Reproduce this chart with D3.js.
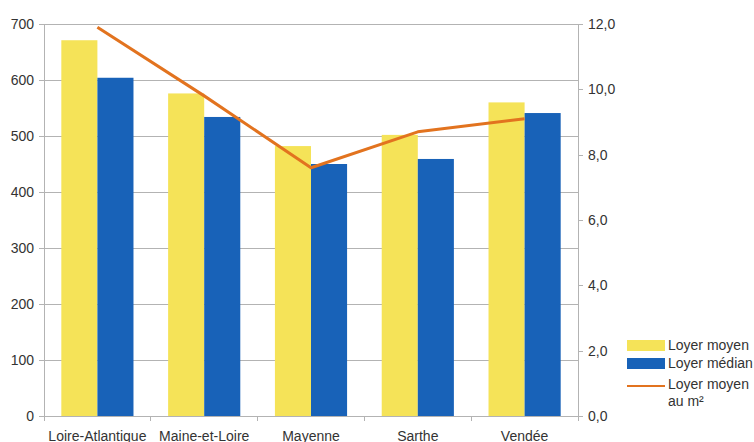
<!DOCTYPE html>
<html>
<head>
<meta charset="utf-8">
<script src="https://cdn.jsdelivr.net/npm/d3@7"></script>
<style>
  body { margin: 0; background: #fff; }
  svg { display: block; font-family: "Liberation Sans", Arial, sans-serif; }
</style>
</head>
<body>
<svg id="chart" width="754" height="442"></svg>
<script>
// Rents by département (Pays de la Loire)
const departements = ["Loire-Atlantique", "Maine-et-Loire", "Mayenne", "Sarthe", "Vendée"];
const loyerMoyen = [671, 576, 482, 502, 560];
const loyerMedian = [604, 534, 450, 459, 541];
const loyerMoyenM2 = [11.9, 9.8, 7.6, 8.7, 9.1];
const leftTicks = [0, 100, 200, 300, 400, 500, 600, 700];
const rightTicks = [0, 2, 4, 6, 8, 10, 12];

const colors = { moyen: "#f5e358", median: "#1862b8", m2: "#e2731f", grid: "#b3b3b3", text: "#333" };
const fontSize = 14;

const svg = d3.select("#chart");
const m = { left: 44, right: 578, top: 24, bottom: 416 };

const x = d3.scaleBand().domain(departements).range([m.left, m.right]).paddingInner(0).paddingOuter(0);
const xInner = d3.scaleBand().domain(["moyen", "median"]).range([0, x.bandwidth()]).paddingOuter(0.48).paddingInner(0);
const yLeft = d3.scaleLinear().domain([0, 700]).range([m.bottom, m.top]);
const yRight = d3.scaleLinear().domain([0, 12]).range([m.bottom, m.top]);

// horizontal grid
svg.append("g").selectAll("line").data(leftTicks).join("line")
  .attr("x1", m.left).attr("x2", m.right)
  .attr("y1", d => yLeft(d)).attr("y2", d => yLeft(d))
  .attr("stroke", colors.grid).attr("stroke-width", 1).attr("shape-rendering", "crispEdges");

// bars
const groups = svg.append("g").selectAll("g").data(departements).join("g")
  .attr("transform", d => `translate(${x(d)},0)`);
groups.append("rect")
  .attr("x", xInner("moyen")).attr("width", xInner.bandwidth())
  .attr("y", (d, i) => yLeft(loyerMoyen[i]))
  .attr("height", (d, i) => m.bottom - yLeft(loyerMoyen[i]))
  .attr("fill", colors.moyen);
groups.append("rect")
  .attr("x", xInner("median")).attr("width", xInner.bandwidth())
  .attr("y", (d, i) => yLeft(loyerMedian[i]))
  .attr("height", (d, i) => m.bottom - yLeft(loyerMedian[i]))
  .attr("fill", colors.median);

// left axis
const leftAxis = svg.append("g").attr("transform", `translate(${m.left},0)`)
  .call(d3.axisLeft(yLeft).tickValues(leftTicks).tickSize(5).tickPadding(5));
// right axis
const rightAxis = svg.append("g").attr("transform", `translate(${m.right},0)`)
  .call(d3.axisRight(yRight).tickValues(rightTicks).tickSize(5).tickPadding(5)
    .tickFormat(d => d3.format(".1f")(d).replace(".", ",")));
// bottom axis
const bottomAxis = svg.append("g").attr("transform", `translate(0,${m.bottom})`)
  .call(d3.axisBottom(x).tickSize(0).tickPadding(15));
// category separators
svg.append("g").selectAll("line").data(d3.range(departements.length + 1)).join("line")
  .attr("x1", i => m.left + i * x.bandwidth()).attr("x2", i => m.left + i * x.bandwidth())
  .attr("y1", m.bottom).attr("y2", m.bottom + 5)
  .attr("stroke", colors.grid).attr("shape-rendering", "crispEdges");

[leftAxis, rightAxis, bottomAxis].forEach(g => {
  g.select(".domain").attr("stroke", colors.grid).attr("shape-rendering", "crispEdges");
  g.selectAll(".tick line").attr("stroke", colors.grid).attr("shape-rendering", "crispEdges");
  g.selectAll("text").attr("fill", colors.text).attr("font-size", fontSize)
    .attr("font-family", "'Liberation Sans', Arial, sans-serif");
});
bottomAxis.select(".domain").attr("d", `M${m.left},0H${m.right}`);

// line for rent per m²
const line = d3.line()
  .x((d, i) => x(departements[i]) + x.bandwidth() / 2)
  .y(d => yRight(d));
svg.append("path").datum(loyerMoyenM2)
  .attr("d", line).attr("fill", "none")
  .attr("stroke", colors.m2).attr("stroke-width", 3).attr("stroke-linejoin", "round");

// legend
const legend = svg.append("g").attr("font-size", fontSize).attr("fill", colors.text);
legend.append("rect").attr("x", 627).attr("y", 340).attr("width", 38).attr("height", 11).attr("fill", colors.moyen);
legend.append("text").attr("x", 668).attr("y", 350).text("Loyer moyen");
legend.append("rect").attr("x", 627).attr("y", 358).attr("width", 38).attr("height", 11).attr("fill", colors.median);
legend.append("text").attr("x", 668).attr("y", 368).text("Loyer médian");
legend.append("line").attr("x1", 627).attr("x2", 665).attr("y1", 386).attr("y2", 386)
  .attr("stroke", colors.m2).attr("stroke-width", 2);
legend.append("text").attr("x", 668).attr("y", 389).text("Loyer moyen");
legend.append("text").attr("x", 668).attr("y", 406).text("au m²");
</script>
</body>
</html>
